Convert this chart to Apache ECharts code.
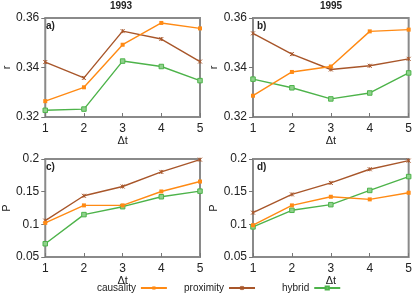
<!DOCTYPE html>
<html><head><meta charset="utf-8">
<script src="https://cdn.jsdelivr.net/npm/echarts@6/dist/echarts.min.js"></script>
<style>html,body{margin:0;padding:0;background:#fff}#c{width:415px;height:294px}</style>
</head><body><div id="c"></div>
<script>
const dt = [1, 2, 3, 4, 5];
const seriesNames = ['causality', 'proximity', 'hybrid'];
// panel a) 1993, r
const a_causality = [0.3264, 0.3320, 0.3492, 0.3580, 0.3558];
const a_proximity = [0.3422, 0.3358, 0.3547, 0.3515, 0.3424];
const a_hybrid    = [0.3227, 0.3232, 0.3426, 0.3404, 0.3347];
// panel b) 1995, r
const b_causality = [0.3286, 0.3382, 0.3404, 0.3546, 0.3553];
const b_proximity = [0.3538, 0.3454, 0.3392, 0.3407, 0.3435];
const b_hybrid    = [0.3353, 0.3318, 0.3273, 0.3297, 0.3378];
// panel c) 1993, P
const c_causality = [0.1022, 0.1290, 0.1290, 0.1503, 0.1655];
const c_proximity = [0.1057, 0.1437, 0.1579, 0.1802, 0.1990];
const c_hybrid    = [0.0703, 0.1149, 0.1270, 0.1422, 0.1508];
// panel d) 1995, P
const d_causality = [0.0986, 0.1290, 0.1422, 0.1382, 0.1483];
const d_proximity = [0.1179, 0.1458, 0.1635, 0.1843, 0.1975];
const d_hybrid    = [0.0961, 0.1215, 0.1301, 0.1519, 0.1731];
const titles = ['1993', '1995'];
const panelLabels = ['a)', 'b)', 'c)', 'd)'];

const COL = {causality: '#ff8a14', proximity: '#a8562a', hybrid: '#4db34a'};
const FONT = 'Liberation Sans, Arial, sans-serif';
const grids = [
  {left: 42, top: 18, width: 158, height: 99},
  {left: 253, top: 18, width: 156, height: 99},
  {left: 42, top: 159, width: 158, height: 98},
  {left: 253, top: 159, width: 156, height: 98}
];
const panels = [
  [a_causality, a_proximity, a_hybrid],
  [b_causality, b_proximity, b_hybrid],
  [c_causality, c_proximity, c_hybrid],
  [d_causality, d_proximity, d_hybrid]
];
const symbolOf = {
  causality: {symbol: 'rect', symbolSize: 4, itemStyle: {color: COL.causality}},
  proximity: {symbol: 'path://M0,0L10,10M10,0L0,10M5,0L5,10', symbolSize: 4,
              itemStyle: {color: COL.proximity, borderColor: COL.proximity, borderWidth: 1}},
  hybrid: {symbol: 'rect', symbolSize: 4.5, itemStyle: {color: '#8fd18c', borderColor: COL.hybrid, borderWidth: 1}}
};
const gridOpts = grids.map(g => Object.assign({show: true, borderColor: '#8a8a8a', borderWidth: 2, backgroundColor: 'transparent'}, g));
const xAxes = grids.map((g, i) => ({
  gridIndex: i, type: 'value', min: 1, max: 5, interval: 1,
  name: 'Δt', nameLocation: 'middle', nameGap: i < 2 ? 17 : 14,
  nameTextStyle: {fontFamily: FONT, fontSize: 11, color: '#222'},
  axisLine: {show: false}, splitLine: {show: false},
  axisTick: {show: true, inside: true, length: 4, lineStyle: {color: '#777'}},
  axisLabel: {fontFamily: FONT, fontSize: 12, color: '#222', margin: 6}
}));
const yAxes = grids.map((g, i) => ({
  gridIndex: i, type: 'value',
  min: i < 2 ? 0.32 : 0.05, max: i < 2 ? 0.36 : 0.2, interval: i < 2 ? 0.02 : 0.05,
  name: i < 2 ? 'r' : 'P', nameLocation: 'middle', nameGap: i < 2 ? 29 : 31, nameRotate: 90,
  nameTextStyle: {fontFamily: FONT, fontSize: 11, color: '#222'},
  axisLine: {show: false}, splitLine: {show: false},
  axisTick: {show: true, inside: false, length: 4, lineStyle: {color: '#777'}},
  axisLabel: {fontFamily: FONT, fontSize: 12, color: '#222', margin: 6,
    formatter: v => String(+v.toFixed(2))}
}));
const series = [];
panels.forEach((p, i) => {
  seriesNames.forEach((n, k) => {
    series.push(Object.assign({
      name: n, type: 'line', xAxisIndex: i, yAxisIndex: i,
      data: dt.map((x, j) => [x, p[k][j]]),
      lineStyle: {color: COL[n], width: 1.4}, color: COL[n],
      showSymbol: true, animation: false, z: 3 - k
    }, symbolOf[n]));
  });
});
const titleArr = [
  {text: titles[0], left: 121, top: 1, textAlign: 'center'},
  {text: titles[1], left: 331, top: 1, textAlign: 'center'}
].map(t => Object.assign(t, {padding: 0, textStyle: {fontFamily: FONT, fontSize: 10, fontWeight: 'bold', color: '#222'}}));
const labelPos = [[46, 21], [257, 21], [46, 162], [257, 162]];
labelPos.forEach((pp, i) => titleArr.push({text: panelLabels[i], left: pp[0], top: pp[1], padding: 0,
  textStyle: {fontFamily: FONT, fontSize: 10, fontWeight: 'bold', color: '#222'}}));
const legendLefts = [97, 184, 282];
const legends = seriesNames.map((n, k) => ({
  data: [n], left: legendLefts[k], top: 283, align: 'right', orient: 'horizontal',
  itemWidth: 26, itemHeight: 4, padding: 0,
  textStyle: {fontFamily: FONT, fontSize: 10, color: '#222'}
}));
const chart = echarts.init(document.getElementById('c'), null, {renderer: 'canvas'});
chart.setOption({
  animation: false, backgroundColor: '#fff',
  title: titleArr, grid: gridOpts, xAxis: xAxes, yAxis: yAxes, legend: legends, series: series
});
</script></body></html>
